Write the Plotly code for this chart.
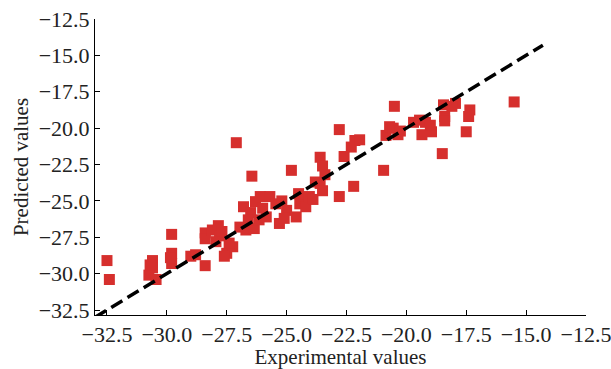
import plotly.graph_objects as go

experimental = [
    -32.5, -32.4,
    -30.6, -30.6, -30.75, -30.45, -30.7,
    -29.8, -29.8, -29.8, -29.85,
    -29.0, -28.8,
    -28.4,
    -28.4, -28.4, -28.1, -27.85, -27.8, -27.95, -27.5, -27.25, -27.6, -27.4, -27.7,
    -27.1,
    -26.95, -26.8, -26.7, -26.45, -26.35, -26.3, -26.1, -26.15, -26.5, -26.6,
    -26.0, -25.85, -25.7, -25.45, -25.3, -25.2, -25.0, -25.1, -24.8, -24.6,
    -24.45, -24.5, -24.2, -24.05, -23.9, -23.8, -23.6, -23.6, -23.5, -23.5, -23.4,
    -22.8, -22.8, -22.6, -22.3, -22.15, -22.2, -21.95,
    -20.95, -20.85, -20.7, -20.5, -20.35, -20.55, -20.25,
    -19.7, -19.45, -19.35, -19.2, -18.95, -19.0,
    -18.5, -18.45, -18.4, -18.4, -17.95, -18.1,
    -17.35, -17.4, -17.5,
    -15.5,
]
predicted = [
    -29.1, -30.4,
    -29.1, -29.6, -30.1, -30.4, -29.4,
    -27.3, -28.6, -29.3, -28.9,
    -28.8, -28.7,
    -29.45,
    -27.2, -27.6, -27.0, -26.7, -27.4, -27.8, -28.6, -28.15, -28.8, -27.9, -27.1,
    -21.0,
    -26.8, -25.4, -27.0, -23.3, -26.9, -25.05, -24.7, -26.3, -25.8, -26.3,
    -25.5, -26.1, -24.7, -25.2, -26.55, -25.0, -25.65, -26.2, -22.9, -26.1,
    -25.2, -24.5, -25.4, -24.7, -24.9, -23.7, -23.8, -22.0, -22.6, -24.3, -23.2,
    -20.1, -24.7, -21.95, -21.3, -20.85, -24.0, -20.8,
    -22.9, -20.5, -19.9, -18.5, -20.45, -20.0, -20.2,
    -19.6, -19.45, -20.45, -19.6, -20.25, -19.8,
    -21.75, -18.4, -19.2, -19.5, -18.3, -18.5,
    -18.75, -19.2, -20.25,
    -18.2,
]

ideal_x = [-33.0, -14.3]
ideal_y = [-33.0, -14.3]

x_ticks = [-32.5, -30.0, -27.5, -25.0, -22.5, -20.0, -17.5, -15.0, -12.5]
y_ticks = [-32.5, -30.0, -27.5, -25.0, -22.5, -20.0, -17.5, -15.0, -12.5]

font_family = "Liberation Serif, Times New Roman, serif"

fig = go.Figure()
fig.add_trace(go.Scatter(
    x=experimental, y=predicted, mode="markers",
    marker=dict(symbol="square", size=11, color="#d62f2d", line=dict(width=0)),
    showlegend=False, cliponaxis=False, hoverinfo="skip",
))
fig.add_trace(go.Scatter(
    x=ideal_x, y=ideal_y, mode="lines",
    line=dict(color="black", width=3.5, dash="13px,6px"),
    showlegend=False, hoverinfo="skip",
))

axis_common = dict(
    showgrid=False, zeroline=False, showline=True, linecolor="black", linewidth=1,
    ticks="inside", ticklen=5, tickcolor="black", tickwidth=1,
    tickfont=dict(family=font_family, size=22, color="#222"),
    tickformat=".1f", automargin=False, ticklabeloverflow="allow",
)

fig.update_layout(
    width=611, height=369,
    margin=dict(l=95, r=25, t=19, b=54),
    paper_bgcolor="white", plot_bgcolor="white",
    font=dict(family=font_family, color="#222"),
    xaxis=dict(range=[-33.0, -12.5], tickvals=x_ticks,
               title=dict(text="Experimental values", font=dict(family=font_family, size=21), standoff=2),
               **axis_common),
    yaxis=dict(range=[-32.84, -12.5], tickvals=y_ticks,
               title=dict(text="Predicted values", font=dict(family=font_family, size=21), standoff=4),
               **axis_common),
)

fig.write_html("out.html", config={"displayModeBar": False},
               post_script="document.body.style.margin='0';")
